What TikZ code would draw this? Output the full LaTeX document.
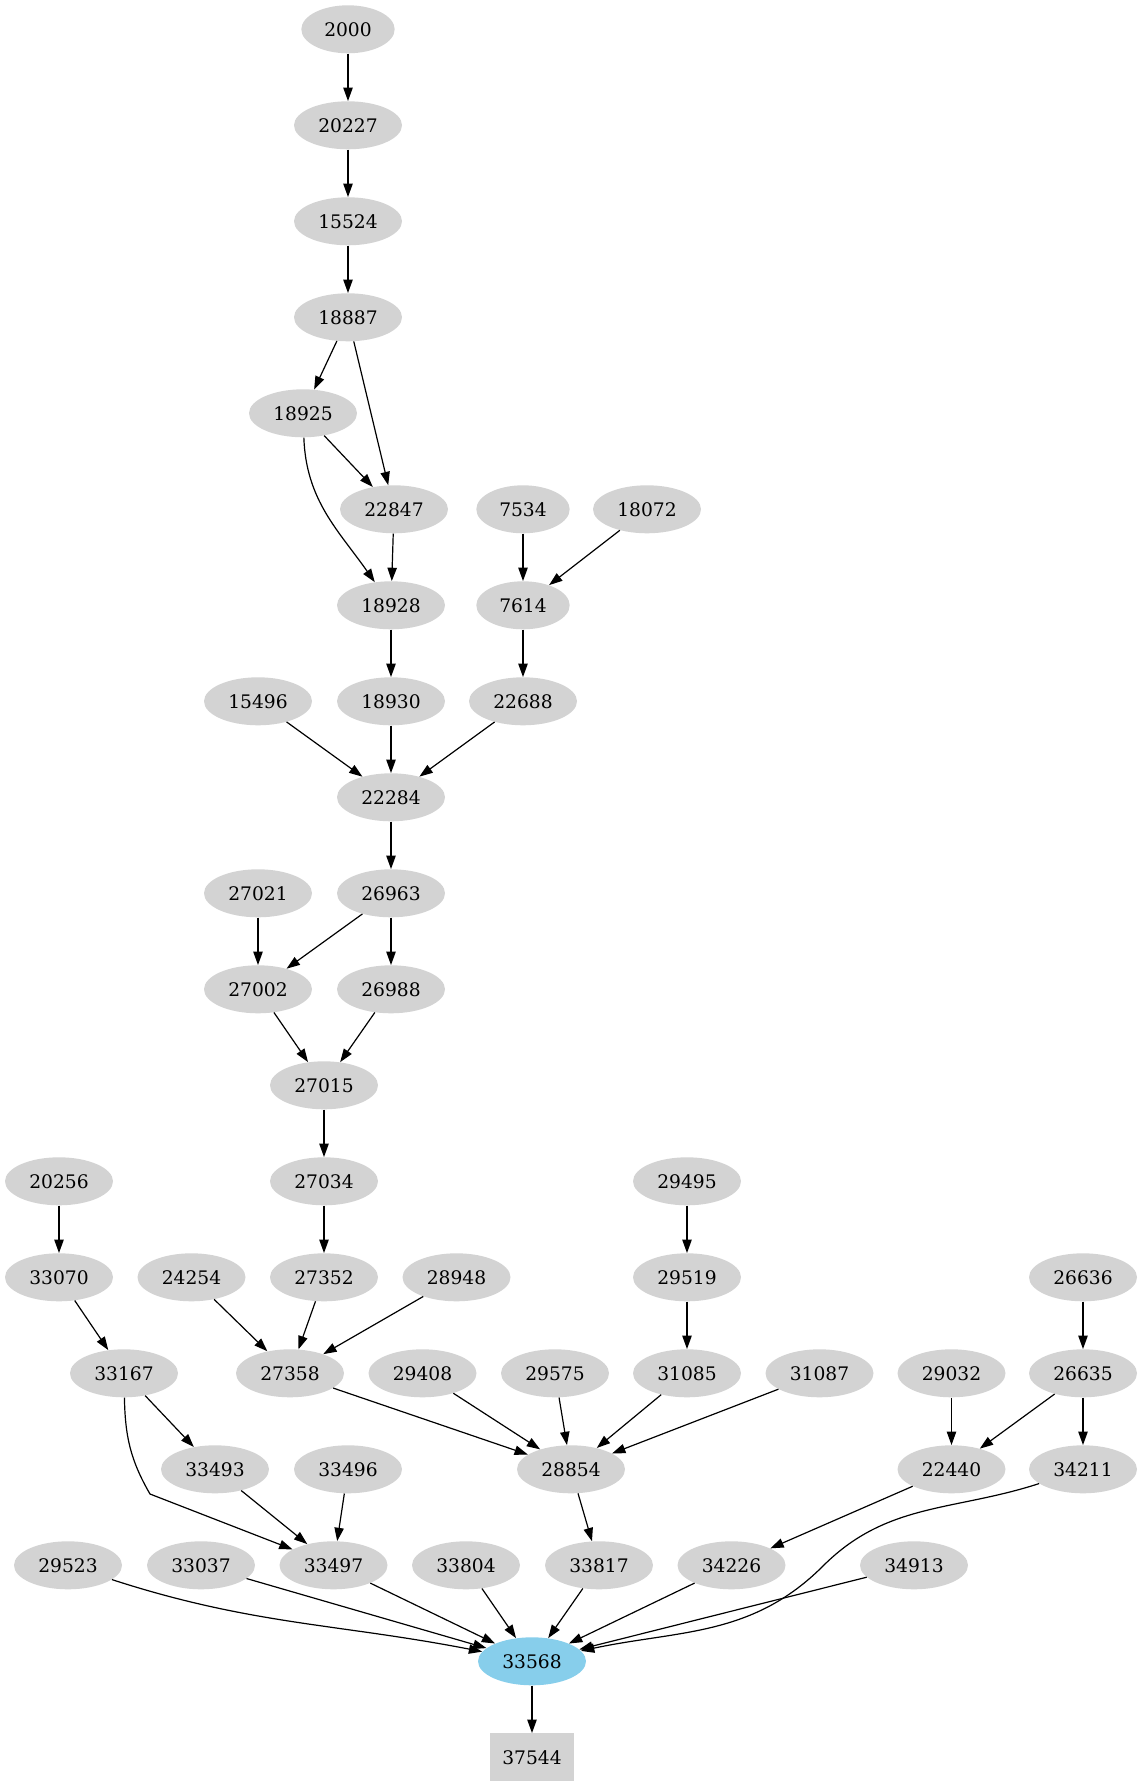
\documentclass[tikz,border=0pt]{standalone}
\usepackage{fontspec}
\setmainfont{DejaVu Serif}
\usetikzlibrary{shapes.geometric,arrows.meta}
\definecolor{nodegray}{HTML}{D3D3D3}
\definecolor{skyb}{HTML}{87CEEB}
\begin{document}
\begin{tikzpicture}[x=0.75pt,y=-0.75pt,
  nd/.style={ellipse, fill=nodegray, inner sep=0pt, minimum width=81pt, minimum height=36pt, font=\fontsize{14}{16}\selectfont},
  nd4/.style={nd, minimum width=70pt},
  hub/.style={nd, fill=skyb},
  sink/.style={rectangle, fill=nodegray, inner sep=0pt, minimum width=63pt, minimum height=36pt, font=\fontsize{14}{16}\selectfont},
  arr/.style={-{Triangle[length=10pt,width=7pt]}, line width=0.9pt}
]
\useasboundingbox (0,0) rectangle (1141,1787);
% rank 0-4
\node[nd4] (n2000) at (348,29.3) {2000};
\node[nd] (n20227) at (348,125.3) {20227};
\node[nd] (n15524) at (348,221.3) {15524};
\node[nd] (n18887) at (348,317.3) {18887};
\node[nd] (n18925) at (303,413.3) {18925};
% rank 5
\node[nd] (n22847) at (394,509.3) {22847};
\node[nd4] (n7534) at (523,509.3) {7534};
\node[nd] (n18072) at (647,509.3) {18072};
% rank 6
\node[nd] (n18928) at (391,605.3) {18928};
\node[nd4] (n7614) at (523,605.3) {7614};
% rank 7
\node[nd] (n15496) at (258,701.3) {15496};
\node[nd] (n18930) at (391,701.3) {18930};
\node[nd] (n22688) at (523,701.3) {22688};
% rank 8
\node[nd] (n22284) at (391,797.3) {22284};
% rank 9
\node[nd] (n27021) at (258,893.3) {27021};
\node[nd] (n26963) at (391,893.3) {26963};
% rank 10
\node[nd] (n27002) at (258,989.3) {27002};
\node[nd] (n26988) at (391,989.3) {26988};
% rank 11
\node[nd] (n27015) at (324,1085.3) {27015};
% rank 12
\node[nd] (n20256) at (59,1181.3) {20256};
\node[nd] (n27034) at (324,1181.3) {27034};
\node[nd] (n29495) at (687,1181.3) {29495};
% rank 13
\node[nd] (n33070) at (59,1277.3) {33070};
\node[nd] (n24254) at (191.5,1277.3) {24254};
\node[nd] (n27352) at (324,1277.3) {27352};
\node[nd] (n28948) at (456.5,1277.3) {28948};
\node[nd] (n29519) at (687,1277.3) {29519};
\node[nd] (n26636) at (1083,1277.3) {26636};
% rank 14
\node[nd] (n33167) at (124,1373.3) {33167};
\node[nd] (n27358) at (290,1373.3) {27358};
\node[nd] (n29408) at (422.5,1373.3) {29408};
\node[nd] (n29575) at (555,1373.3) {29575};
\node[nd] (n31085) at (687,1373.3) {31085};
\node[nd] (n31087) at (819.5,1373.3) {31087};
\node[nd] (n29032) at (951.5,1373.3) {29032};
\node[nd] (n26635) at (1083,1373.3) {26635};
% rank 15
\node[nd] (n33493) at (215,1469.3) {33493};
\node[nd] (n33496) at (348,1469.3) {33496};
\node[nd] (n28854) at (571,1469.3) {28854};
\node[nd] (n22440) at (951.5,1469.3) {22440};
\node[nd] (n34211) at (1083,1469.3) {34211};
% rank 16
\node[nd] (n29523) at (68,1565.3) {29523};
\node[nd] (n33037) at (201,1565.3) {33037};
\node[nd] (n33497) at (333.5,1565.3) {33497};
\node[nd] (n33804) at (466,1565.3) {33804};
\node[nd] (n33817) at (599,1565.3) {33817};
\node[nd] (n34226) at (731.5,1565.3) {34226};
\node[nd] (n34913) at (914,1565.3) {34913};
% rank 17-18
\node[hub] (n33568) at (532,1661.3) {33568};
\node[sink] (n37544) at (532,1757.3) {37544};
\coordinate (c34) at (823,1566);
\coordinate (c33) at (150,1494);

% edges
\draw[arr] (n2000) -- (n20227);
\draw[arr] (n20227) -- (n15524);
\draw[arr] (n15524) -- (n18887);
\draw[arr] (n18887) -- (n18925);
\draw[arr] (n18887) -- (n22847);
\draw[arr] (n18925) -- (n22847);
\draw[arr] (n18925) to[out=-88,in=125] (n18928);
\draw[arr] (n22847) -- (n18928);
\draw[arr] (n7534) -- (n7614);
\draw[arr] (n18072) -- (n7614);
\draw[arr] (n18928) -- (n18930);
\draw[arr] (n7614) -- (n22688);
\draw[arr] (n15496) -- (n22284);
\draw[arr] (n18930) -- (n22284);
\draw[arr] (n22688) -- (n22284);
\draw[arr] (n22284) -- (n26963);
\draw[arr] (n27021) -- (n27002);
\draw[arr] (n26963) -- (n27002);
\draw[arr] (n26963) -- (n26988);
\draw[arr] (n27002) -- (n27015);
\draw[arr] (n26988) -- (n27015);
\draw[arr] (n27015) -- (n27034);
\draw[arr] (n27034) -- (n27352);
\draw[arr] (n20256) -- (n33070);
\draw[arr] (n33070) -- (n33167);
\draw[arr] (n24254) -- (n27358);
\draw[arr] (n27352) -- (n27358);
\draw[arr] (n28948) -- (n27358);
\draw[arr] (n29495) -- (n29519);
\draw[arr] (n29519) -- (n31085);
\draw[arr] (n26636) -- (n26635);
\draw[arr] (n33167) -- (n33493);
\draw[arr] (n33167) to[out=-89,in=120] (c33) -- (n33497);
\draw[arr] (n27358) -- (n28854);
\draw[arr] (n29408) -- (n28854);
\draw[arr] (n29575) -- (n28854);
\draw[arr] (n31085) -- (n28854);
\draw[arr] (n31087) -- (n28854);
\draw[arr] (n29032) -- (n22440);
\draw[arr] (n26635) -- (n22440);
\draw[arr] (n26635) -- (n34211);
\draw[arr] (n33493) -- (n33497);
\draw[arr] (n33496) -- (n33497);
\draw[arr] (n28854) -- (n33817);
\draw[arr] (n22440) -- (n34226);
\draw[arr] (n34211) to[out=-162,in=45] (c34) to[out=-135,in=12] (n33568);
\draw[arr] (n29523) to[out=-18,in=169] (n33568);
\draw[arr] (n33037) -- (n33568);
\draw[arr] (n33497) -- (n33568);
\draw[arr] (n33804) -- (n33568);
\draw[arr] (n33817) -- (n33568);
\draw[arr] (n34226) -- (n33568);
\draw[arr] (n34913) -- (n33568);
\draw[arr] (n33568) -- (n37544);
\end{tikzpicture}
\end{document}
